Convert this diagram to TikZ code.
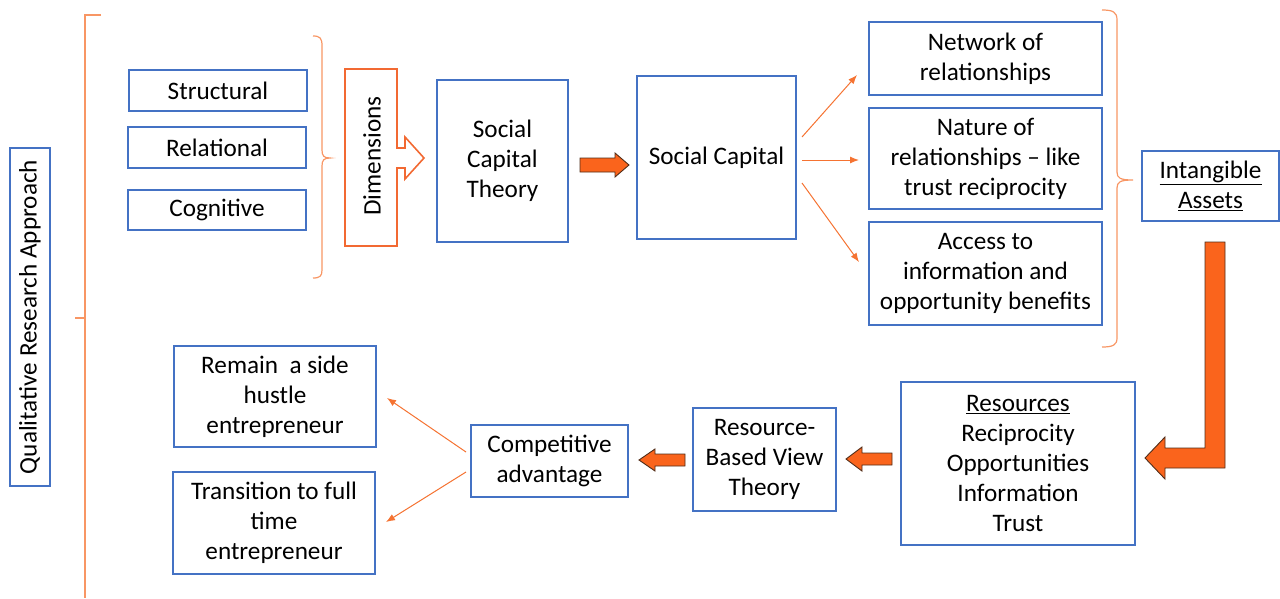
\documentclass[tikz,border=0pt]{standalone}
\usepackage{fontspec}
\setmainfont{Carlito}
\usetikzlibrary{calc,arrows.meta}
\definecolor{boxblue}{RGB}{68,114,196}
\definecolor{braceorange}{RGB}{248,150,100}
\definecolor{lineorange}{RGB}{245,115,50}
\definecolor{fillorange}{RGB}{250,100,28}
\definecolor{arrowedge}{RGB}{80,45,25}
\definecolor{dimorange}{RGB}{242,105,50}
\begin{document}
\begin{tikzpicture}[x=1pt,y=-1pt,
  box/.style={draw=boxblue,line width=1.6pt,rectangle,inner sep=0pt,align=center,
    font=\fontsize{25.2}{30}\selectfont,text=black},
  plain/.style={inner sep=0pt,align=center,font=\fontsize{25.2}{30}\selectfont,text=black},
  bracel/.style={draw=braceorange,line width=1.2pt},
  thinarrow/.style={draw=lineorange,line width=1pt,-{Latex[length=9pt,width=7pt]}},
  blockarrow/.style={fill=fillorange,draw=arrowedge,line width=0.9pt,line join=miter}
]
\useasboundingbox (0,0) rectangle (1280,598);

% left bracket
\draw[bracel] (101,15) -- (85,15) -- (85,598);
\draw[bracel] (75,318) -- (85,318);
\node[box,rotate=90,minimum width=338,minimum height=40,font=\fontsize{25.2}{30}\selectfont] (qual) at (30,317) {Qualitative Research Approach};

% dimension boxes
\node[box,minimum width=178,minimum height=41] (struct) at (218,90.5) {Structural};
\node[box,minimum width=178,minimum height=41] (relat) at (217,147.5) {Relational};
\node[box,minimum width=178,minimum height=40] (cogn) at (217,210) {Cognitive};

% brace
\draw[bracel] (313,36) .. controls (320,36) and (322,38) .. (322,46) -- (322,150)
  .. controls (322,156) and (324,158) .. (330,158)
  .. controls (324,158) and (322,160) .. (322,166) -- (322,270)
  .. controls (322,276) and (320,278) .. (313,278);

% Dimensions callout arrow
\draw[draw=dimorange,line width=1.6pt,line join=miter] (345,69) -- (397,69) -- (397,148) -- (405,148) -- (405,137) -- (424,158) -- (405,179) -- (405,168) -- (397,168) -- (397,246) -- (345,246) -- cycle;
\node[plain,rotate=90] (dims) at (372,156) {Dimensions};

\node[box,minimum width=131,minimum height=162] (sct) at (502.5,161) {Social\\Capital\\Theory};
\node[box,minimum width=159,minimum height=163] (sc) at (716.5,157.5) {Social Capital};

% block arrow SCT -> SC
\draw[blockarrow] (580,158) -- (615,158) -- (615,153) -- (629,165) -- (615,177) -- (615,172) -- (580,172) -- cycle;

% three aspects
\node[box,minimum width=233,minimum height=73] (net) at (985.5,58.5) {Network of\\relationships};
\node[box,minimum width=233,minimum height=101] (nat) at (985.5,158.5) {Nature of\\relationships -- like\\trust reciprocity};
\node[box,minimum width=233,minimum height=103] (acc) at (985.5,273.5) {Access to\\information and\\opportunity benefits};

\coordinate (s1) at (802,137); \coordinate (e1) at (857,75);
\coordinate (s2) at (802,160); \coordinate (e2) at (859,160);
\coordinate (s3) at (802,183); \coordinate (e3) at (859,262);
\draw[thinarrow] (s1) -- (e1);
\draw[thinarrow] (s2) -- (e2);
\draw[thinarrow] (s3) -- (e3);

% right brace
\draw[bracel] (1102,10) .. controls (1113,10) and (1117,12) .. (1117,20) -- (1117,172)
  .. controls (1117,178) and (1120,180) .. (1133,180)
  .. controls (1120,180) and (1117,182) .. (1117,188) -- (1117,338)
  .. controls (1117,345) and (1113,347) .. (1102,347);

\node[box,minimum width=137,minimum height=70] (intang) at (1210.5,186) {\underline{Intangible}\\\underline{Assets}};

% big L arrow
\draw[blockarrow] (1205,242) -- (1225,242) -- (1225,468) -- (1165,468) -- (1165,479) -- (1145,458) -- (1165,437) -- (1165,448) -- (1205,448) -- cycle;

\node[box,minimum width=234,minimum height=163] (res) at (1018,463.5) {\underline{Resources}\\Reciprocity\\Opportunities\\Information\\Trust};
\node[box,minimum width=143,minimum height=103] (rbv) at (764.5,459.5) {Resource-\\Based View\\Theory};

\draw[blockarrow] (892,453) -- (862,453) -- (862,447) -- (846,459) -- (862,471) -- (862,465) -- (892,465) -- cycle;

\node[box,minimum width=157,minimum height=72] (comp) at (549.5,461) {Competitive\\advantage};

\draw[blockarrow] (685,454) -- (655,454) -- (655,449) -- (639,460) -- (655,471) -- (655,466) -- (685,466) -- cycle;

\node[box,minimum width=202,minimum height=101] (remain) at (275,396.5) {Remain\ \ a side\\hustle\\entrepreneur};
\node[box,minimum width=202,minimum height=102] (trans) at (274,523) {Transition to full\\time\\entrepreneur};

\coordinate (s4) at (466,452); \coordinate (e4) at (387,398);
\coordinate (s5) at (466,472); \coordinate (e5) at (386,522);
\draw[thinarrow] (s4) -- (e4);
\draw[thinarrow] (s5) -- (e5);
\end{tikzpicture}
\end{document}
